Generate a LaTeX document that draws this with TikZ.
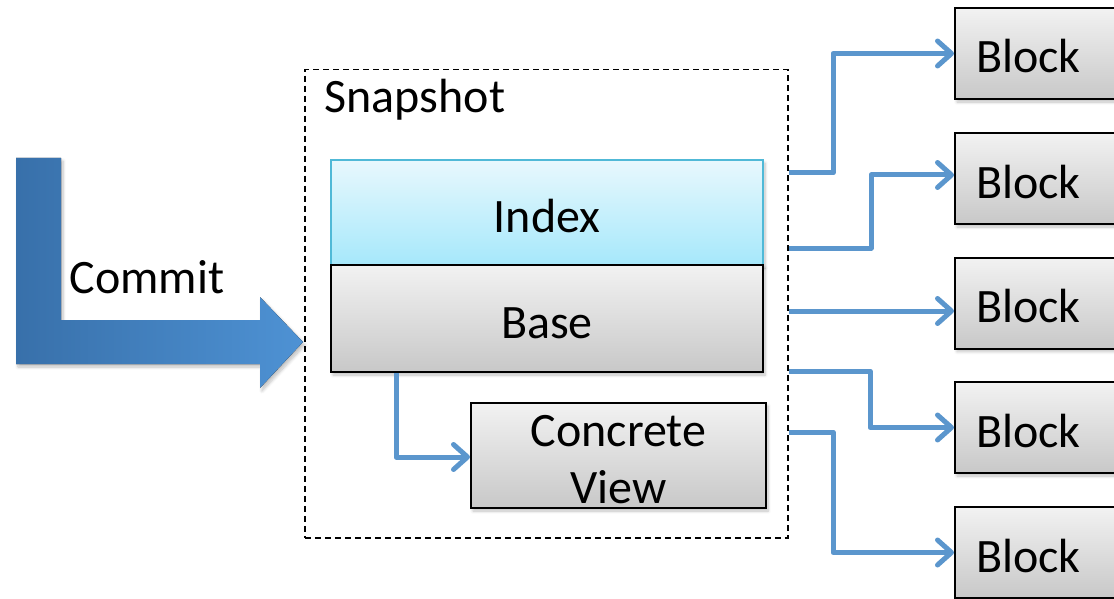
\documentclass[tikz,border=0pt]{standalone}
\usepackage{fontspec}
\setmainfont{Carlito}
\usetikzlibrary{arrows.meta,shadows.blur}

\definecolor{connblue}{RGB}{91,150,205}
\definecolor{arrowdark}{RGB}{56,112,170}
\definecolor{arrowlight}{RGB}{78,146,212}
\definecolor{idxtop}{RGB}{232,248,253}
\definecolor{idxbot}{RGB}{166,232,251}
\definecolor{idxedge}{RGB}{80,185,215}
\definecolor{graytop}{RGB}{242,242,242}
\definecolor{graybot}{RGB}{200,200,200}

\tikzset{
  lbl/.style={font=\fontsize{48}{56}\selectfont},
  softshadow/.style={blur shadow={shadow xshift=2pt, shadow yshift=-3pt,
      shadow blur steps=6, shadow blur radius=3pt, shadow opacity=25}},
  boxtext/.style={text height=39pt, text depth=0pt},
  graybox/.style={draw=black, line width=2pt, top color=graytop,
      bottom color=graybot, softshadow, lbl},
  idxbox/.style={draw=idxedge, line width=2pt, top color=idxtop,
      bottom color=idxbot, softshadow, lbl},
  blockbox/.style={graybox, boxtext, minimum height=91pt, inner xsep=21pt,
      text width=134pt, align=left, anchor=west},
  conn/.style={draw=connblue, line width=5pt, line join=round,
      -{Straight Barb[length=14pt,width=25pt,line cap=round,line join=round]}},
  snapbox/.style={draw=black, line width=1.5pt, dash pattern=on 6pt off 4pt},
}

\begin{document}
\begin{tikzpicture}[x=1pt,y=-1pt]
\useasboundingbox (0,0) rectangle (1114,599);
\begin{scope}
\clip (0,0) rectangle (1114,599);

% snapshot frame
\node[snapbox, minimum width=483pt, minimum height=468pt, anchor=north west]
  (snap) at (304,69) {};
\node[lbl, anchor=base west] (snaplabel) at (321,113) {Snapshot};

% commit arrow
\fill[left color=arrowdark, right color=arrowlight, softshadow]
  (16,158) -- (61,158) -- (61,320) -- (260,320) -- (260,297) -- (303,342)
  -- (260,388) -- (260,364) -- (16,364) -- cycle;
\node[lbl, anchor=base west] (commit) at (66,293) {Commit};

% index, base and concrete view
\node[idxbox, boxtext, minimum width=432pt, minimum height=105pt, anchor=north west]
  (index) at (330,159) {Index};
\node[graybox, boxtext, minimum width=432pt, minimum height=107pt, anchor=north west]
  (base) at (330,264) {Base};
\node[graybox, minimum width=295pt, minimum height=105pt, anchor=north west]
  (view) at (470,402) {};
\node[align=center, font=\fontsize{48}{57}\selectfont]
  (viewtext) at ([yshift=-4pt]view.center) {Concrete\\View};

% blocks
\node[blockbox] (b1) at (954,53.5) {Block};
\node[blockbox] (b2) at (954,178.5) {Block};
\node[blockbox] (b3) at (954,303) {Block};
\node[blockbox] (b4) at (954,427.5) {Block};
\node[blockbox] (b5) at (954,552.5) {Block};

% exits on the snapshot frame
\coordinate (o1) at (snap.east |- 0,173);
\coordinate (o2) at (snap.east |- 0,248);
\coordinate (o3) at (snap.east |- 0,311);
\coordinate (o4) at (snap.east |- 0,371);
\coordinate (o5) at (snap.east |- 0,432);

% connectors
\draw[conn] (base.south -| 396,0) |- (view.west |- 0,457);
\draw[conn] (o1) -- (833,173) |- (b1.west);
\draw[conn] (o2) -- (871,248) |- (b2.west |- 0,175);
\draw[conn] (o3) -- (b3.west |- o3);
\draw[conn] (o4) -- (870,371) |- (b4.west);
\draw[conn] (o5) -- (833,432) |- (b5.west);
\end{scope}
\end{tikzpicture}
\end{document}
